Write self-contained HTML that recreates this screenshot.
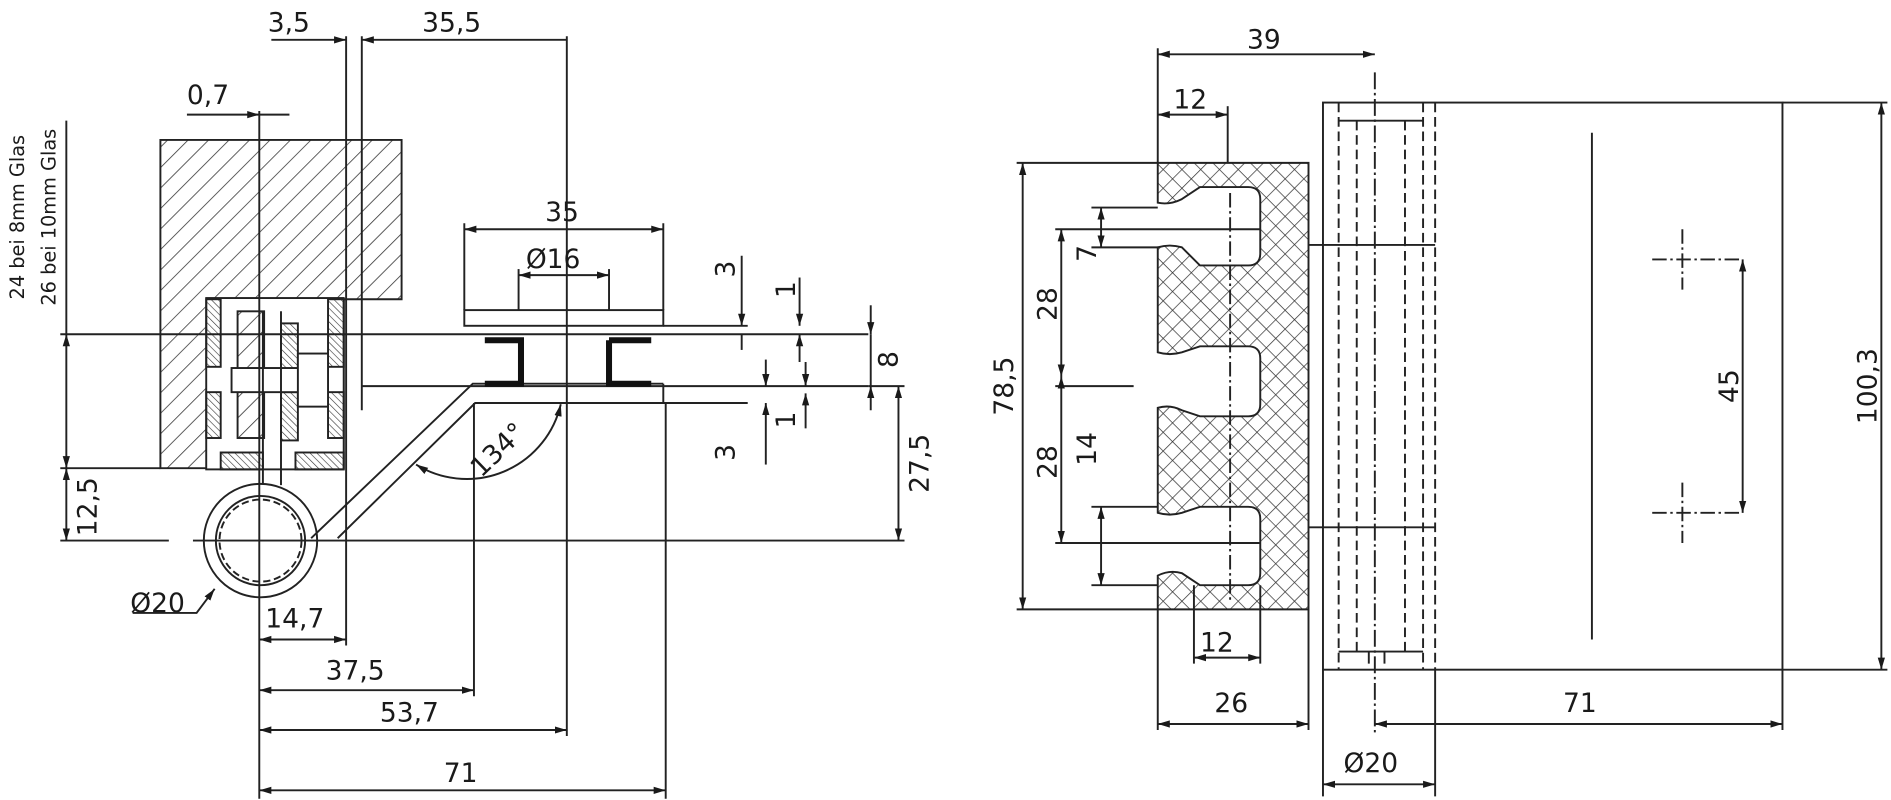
<!DOCTYPE html>
<html><head><meta charset="utf-8"><style>
html,body{margin:0;padding:0;background:#fff;}
svg{display:block}
text{font-family:"DejaVu Sans","Liberation Sans",sans-serif;fill:#1a1a1a;}
</style></head><body>
<svg width="1891" height="800" viewBox="0 0 1568 663" preserveAspectRatio="none" xmlns="http://www.w3.org/2000/svg">
<defs>
<pattern id="h1" width="12" height="12" patternUnits="userSpaceOnUse" patternTransform="rotate(45)"><line x1="0" y1="0" x2="0" y2="12" stroke="#333" stroke-width="1.3"/></pattern>
<pattern id="h2" width="4" height="4" patternUnits="userSpaceOnUse" patternTransform="rotate(-45)"><line x1="0" y1="0" x2="0" y2="4" stroke="#333" stroke-width="1"/></pattern>
<pattern id="xh" width="11" height="11" patternUnits="userSpaceOnUse" patternTransform="rotate(45)"><line x1="0" y1="0" x2="0" y2="11" stroke="#333" stroke-width="1.2"/><line x1="0" y1="0" x2="11" y2="0" stroke="#333" stroke-width="1.2"/></pattern>
<marker id="a" viewBox="0 0 10 10" refX="10" refY="5" markerWidth="10" markerHeight="10" orient="auto-start-reverse" markerUnits="userSpaceOnUse"><path d="M0,2 L10,5 L0,8z" fill="#1a1a1a"/></marker>
</defs>
<g stroke="#222" stroke-width="1.6" fill="none">
<!-- LEFT DRAWING -->
<path d="M133,116 H333 V248 H285 V388 H133 Z" fill="url(#h1)"/>
<rect x="171" y="247" width="114" height="142" fill="#fff"/>
<rect x="171" y="248" width="12" height="56" fill="url(#h2)"/>
<rect x="171" y="325" width="12" height="38" fill="url(#h2)"/>
<rect x="272" y="248" width="13" height="56" fill="url(#h2)"/>
<rect x="272" y="325" width="13" height="38" fill="url(#h2)"/>
<rect x="183" y="375" width="35" height="14" fill="url(#h2)"/>
<rect x="245" y="375" width="40" height="14" fill="url(#h2)"/>
<rect x="197" y="258" width="22" height="105" fill="url(#h1)"/>
<rect x="233" y="268" width="14" height="40" fill="url(#h2)"/>
<rect x="233" y="325" width="14" height="40" fill="url(#h2)"/>
<rect x="192" y="305" width="70" height="20" fill="#fff"/>
<rect x="247" y="293" width="25" height="44" fill="#fff"/>
<line x1="218" y1="258" x2="218" y2="402"/><line x1="233" y1="258" x2="233" y2="402"/>
<circle cx="216" cy="448" r="47" fill="#fff"/>
<circle cx="216" cy="448" r="37"/>
<circle cx="216" cy="448" r="34" stroke-dasharray="6 3"/>
<path d="M258,446 L392,318 H550" />
<path d="M280,446 L394,334 H550 V318"/>
<path d="M300,277 H720 M300,320 H720 M300,277 V340"/>
<rect x="385" y="257" width="165" height="13" fill="#fff"/>
<path d="M402,282 H432 V318 H402 M505,282 H540 M505,282 V318 H540" stroke="#111" stroke-width="5"/>
<line x1="287" y1="30" x2="287" y2="535"/>
<line x1="300" y1="30" x2="300" y2="277"/>
<line x1="470" y1="30" x2="470" y2="610"/>
<line x1="215" y1="92" x2="215" y2="662"/>
<line x1="385" y1="185" x2="385" y2="257"/><line x1="550" y1="185" x2="550" y2="257"/>
<line x1="430" y1="223" x2="430" y2="257"/><line x1="505" y1="223" x2="505" y2="257"/>
<line x1="393" y1="334" x2="393" y2="577"/>
<line x1="552" y1="334" x2="552" y2="662"/>
<line x1="50" y1="277" x2="300" y2="277"/>
<line x1="50" y1="388" x2="133" y2="388"/>
<path d="M50,448 H140 M160,448 H750"/>
<line x1="550" y1="270" x2="620" y2="270"/><line x1="550" y1="334" x2="620" y2="334"/>
<line x1="720" y1="320" x2="750" y2="320"/>
<line x1="225" y1="33" x2="287" y2="33" marker-end="url(#a)"/>
<line x1="300" y1="33" x2="470" y2="33" marker-start="url(#a)"/>
<line x1="155" y1="95" x2="215" y2="95" marker-end="url(#a)"/>
<line x1="215" y1="95" x2="240" y2="95"/>
<line x1="385" y1="190" x2="550" y2="190" marker-start="url(#a)" marker-end="url(#a)"/>
<line x1="430" y1="228" x2="505" y2="228" marker-start="url(#a)" marker-end="url(#a)"/>
<line x1="55" y1="100" x2="55" y2="277" />
<line x1="55" y1="277" x2="55" y2="388" marker-start="url(#a)" marker-end="url(#a)"/>
<line x1="55" y1="388" x2="55" y2="448" marker-start="url(#a)" marker-end="url(#a)"/>
<line x1="615" y1="212" x2="615" y2="270" marker-end="url(#a)"/><line x1="615" y1="277" x2="615" y2="290"/>
<line x1="663" y1="230" x2="663" y2="270" marker-end="url(#a)"/><line x1="663" y1="277" x2="663" y2="300" marker-start="url(#a)"/>
<line x1="722" y1="253" x2="722" y2="277" marker-end="url(#a)"/><line x1="722" y1="320" x2="722" y2="340" marker-start="url(#a)"/>
<line x1="722" y1="277" x2="722" y2="320"/>
<line x1="635" y1="298" x2="635" y2="320" marker-end="url(#a)"/><line x1="635" y1="334" x2="635" y2="385" marker-start="url(#a)"/>
<line x1="668" y1="300" x2="668" y2="320" marker-end="url(#a)"/><line x1="668" y1="326" x2="668" y2="355" marker-start="url(#a)"/>
<line x1="745" y1="320" x2="745" y2="448" marker-start="url(#a)" marker-end="url(#a)"/>
<line x1="215" y1="530" x2="287" y2="530" marker-start="url(#a)" marker-end="url(#a)"/>
<line x1="215" y1="572" x2="393" y2="572" marker-start="url(#a)" marker-end="url(#a)"/>
<line x1="215" y1="605" x2="470" y2="605" marker-start="url(#a)" marker-end="url(#a)"/>
<line x1="215" y1="655" x2="552" y2="655" marker-start="url(#a)" marker-end="url(#a)"/>
<path d="M110,508 H163 L178,488" marker-end="url(#a)"/>
<path d="M345,385 A80,80 0 0 0 465,335" marker-start="url(#a)" marker-end="url(#a)"/>

<!-- RIGHT DRAWING -->
<path d="M960,135 H1085 V505 H960 V477 Q970,472 980,475 L995,485 H1035 Q1045,485 1045,475 V430 Q1045,420 1035,420 H995 L980,425 Q970,428 960,425 V338 Q970,335 980,340 L995,345 H1035 Q1045,345 1045,335 V297 Q1045,287 1035,287 H995 L980,292 Q970,295 960,292 V205 Q970,202 980,205 L995,220 H1035 Q1045,220 1045,210 V165 Q1045,155 1035,155 H995 L980,165 Q970,170 960,168 Z" fill="url(#xh)"/>
<rect x="1097" y="85" width="381" height="470"/>
<line x1="1190" y1="85" x2="1190" y2="555" stroke-dasharray="8 4"/>
<line x1="1110" y1="85" x2="1110" y2="555" stroke-dasharray="8 4"/>
<line x1="1125" y1="100" x2="1125" y2="540" stroke-dasharray="8 4"/>
<line x1="1165" y1="100" x2="1165" y2="540" stroke-dasharray="8 4"/>
<line x1="1180" y1="85" x2="1180" y2="555" stroke-dasharray="8 4"/>
<line x1="1140" y1="60" x2="1140" y2="610" stroke-dasharray="14 3 2 3"/>
<path d="M1110,100 H1180 M1110,540 H1180 M1135,540 V550 M1148,540 V550"/>
<path d="M1085,203 H1190 M1085,437 H1190"/>
<line x1="1320" y1="110" x2="1320" y2="530"/>
<path d="M1370,215 H1445 M1395,190 V240 M1370,425 H1445 M1395,400 V450" stroke-dasharray="12 3 2 3"/>
<line x1="1445" y1="215" x2="1445" y2="425" marker-start="url(#a)" marker-end="url(#a)"/>
<line x1="1478" y1="85" x2="1565" y2="85"/><line x1="1478" y1="555" x2="1565" y2="555"/>
<line x1="1560" y1="85" x2="1560" y2="555" marker-start="url(#a)" marker-end="url(#a)"/>
<line x1="960" y1="40" x2="960" y2="135"/><line x1="1018" y1="88" x2="1018" y2="135"/>
<line x1="960" y1="45" x2="1140" y2="45" marker-start="url(#a)" marker-end="url(#a)"/>
<line x1="960" y1="95" x2="1018" y2="95" marker-start="url(#a)" marker-end="url(#a)"/>
<path d="M843,135 H960 M843,505 H960 M875,190 H1045 M875,450 H1045 M905,172 H960 M905,205 H960 M905,420 H960 M905,485 H960 M875,320 H940"/>
<line x1="848" y1="135" x2="848" y2="505" marker-start="url(#a)" marker-end="url(#a)"/>
<line x1="880" y1="190" x2="880" y2="312" marker-start="url(#a)" marker-end="url(#a)"/>
<line x1="880" y1="312" x2="880" y2="450" marker-start="url(#a)" marker-end="url(#a)"/>
<line x1="913" y1="172" x2="913" y2="205" marker-start="url(#a)" marker-end="url(#a)"/>
<line x1="913" y1="420" x2="913" y2="485" marker-start="url(#a)" marker-end="url(#a)"/>
<line x1="1020" y1="160" x2="1020" y2="500" stroke-dasharray="12 3 2 3"/>
<path d="M960,505 V605 M1085,505 V605 M990,485 V550 M1045,485 V550 M1097,555 V660 M1190,555 V660 M1478,555 V605"/>
<line x1="990" y1="545" x2="1045" y2="545" marker-start="url(#a)" marker-end="url(#a)"/>
<line x1="960" y1="600" x2="1085" y2="600" marker-start="url(#a)" marker-end="url(#a)"/>
<line x1="1140" y1="600" x2="1478" y2="600" marker-start="url(#a)" marker-end="url(#a)"/>
<line x1="1097" y1="650" x2="1190" y2="650" marker-start="url(#a)" marker-end="url(#a)"/>
</g>
<g font-size="22">
<text x="222" y="26">3,5</text>
<text x="350" y="26">35,5</text>
<text x="155" y="86">0,7</text>
<text x="452" y="183">35</text>
<text x="436" y="222">Ø16</text>
<text x="108" y="507">Ø20</text>
<text x="220" y="520">14,7</text>
<text x="270" y="563">37,5</text>
<text x="315" y="598">53,7</text>
<text x="368" y="648">71</text>
<text transform="translate(80,420) rotate(-90)" text-anchor="middle">12,5</text>
<text transform="translate(770,384) rotate(-90)" text-anchor="middle">27,5</text>
<text transform="translate(744,298) rotate(-90)" text-anchor="middle">8</text>
<text transform="translate(609,223) rotate(-90)" text-anchor="middle">3</text>
<text transform="translate(659,240) rotate(-90)" text-anchor="middle">1</text>
<text transform="translate(609,375) rotate(-90)" text-anchor="middle">3</text>
<text transform="translate(659,348) rotate(-90)" text-anchor="middle">1</text>
<text transform="translate(418,378) rotate(-44)" text-anchor="middle">134°</text>
<text transform="translate(20,180) rotate(-90)" text-anchor="middle" font-size="16">24 bei 8mm Glas</text>
<text transform="translate(46,180) rotate(-90)" text-anchor="middle" font-size="16">26 bei 10mm Glas</text>
<text x="1034" y="40">39</text>
<text x="973" y="90">12</text>
<text x="995" y="540">12</text>
<text x="1007" y="590">26</text>
<text x="1296" y="590">71</text>
<text x="1114" y="640">Ø20</text>
<text transform="translate(840,320) rotate(-90)" text-anchor="middle">78,5</text>
<text transform="translate(876,252) rotate(-90)" text-anchor="middle">28</text>
<text transform="translate(876,383) rotate(-90)" text-anchor="middle">28</text>
<text transform="translate(909,210) rotate(-90)" text-anchor="middle">7</text>
<text transform="translate(909,372) rotate(-90)" text-anchor="middle">14</text>
<text transform="translate(1441,320) rotate(-90)" text-anchor="middle">45</text>
<text transform="translate(1556,320) rotate(-90)" text-anchor="middle">100,3</text>
</g>
</svg>
</body></html>
